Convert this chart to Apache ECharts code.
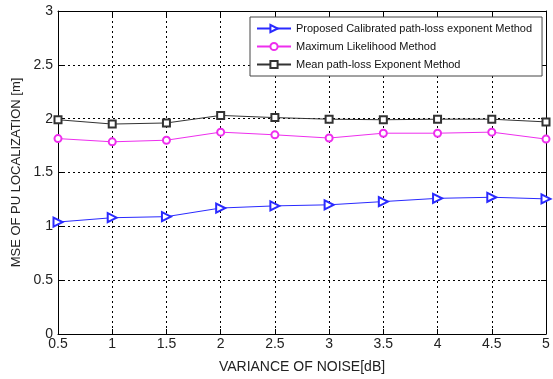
<!DOCTYPE html>
<html>
<head>
<meta charset="utf-8">
<script src="https://cdn.jsdelivr.net/npm/echarts@6/dist/echarts.min.js"></script>
<style>
  html, body { margin: 0; padding: 0; background: #fff; }
  #main { width: 553px; height: 379px; }
</style>
</head>
<body>
<div id="main"></div>
<script>
// 噪声方差 (dB)
var noiseVar = [0.5, 1, 1.5, 2, 2.5, 3, 3.5, 4, 4.5, 5];
// 三种方法的 MSE
var proposed = [1.04, 1.08, 1.09, 1.17, 1.19, 1.20, 1.23, 1.26, 1.27, 1.255];
var maxLike = [1.815, 1.785, 1.80, 1.875, 1.85, 1.82, 1.865, 1.865, 1.875, 1.81];
var meanExp = [1.99, 1.95, 1.96, 2.03, 2.01, 1.995, 1.99, 1.995, 1.995, 1.97];
var seriesNames = ['Proposed Calibrated path-loss exponent Method', 'Maximum Likelihood Method', 'Mean path-loss Exponent Method'];

var pairs = function (ys) {
  return noiseVar.map(function (x, i) { return [x, ys[i]]; });
};

var chart = echarts.init(document.getElementById('main'));
var fontFam = 'Liberation Sans, Arial, sans-serif';

var axisBase = {
  type: 'value',
  interval: 0.5,
  axisLine: { show: true, onZero: false, lineStyle: { color: '#000', width: 1 } },
  axisTick: { show: true, inside: true, length: 5, lineStyle: { color: '#000' } },
  splitLine: { show: false }
};

var option = {
  animation: false,
  backgroundColor: '#fff',
  grid: { left: 58, right: 7, top: 11, bottom: 41 },
  legend: {
    orient: 'vertical',
    left: 250,
    top: 17,
    padding: [6, 10, 6, 6],
    itemGap: 7,
    itemWidth: 34,
    itemHeight: 9,
    backgroundColor: '#fff',
    borderColor: '#444',
    borderWidth: 1,
    textStyle: { fontFamily: fontFam, fontSize: 11, color: '#111' },
    data: seriesNames
  },
  xAxis: [
    Object.assign({}, axisBase, {
      min: 0.5, max: 5,
      position: 'bottom',
      name: 'VARIANCE OF NOISE[dB]',
      nameLocation: 'middle',
      nameGap: 26,
      nameTextStyle: { fontFamily: fontFam, fontSize: 14, color: '#222' },
      axisLabel: { fontFamily: fontFam, fontSize: 14, color: '#222', margin: 3 },
      splitLine: { show: true, lineStyle: { color: '#000', type: [2, 3], width: 1 } }
    }),
    Object.assign({}, axisBase, {
      min: 0.5, max: 5,
      position: 'top',
      axisLabel: { show: false }
    })
  ],
  yAxis: [
    Object.assign({}, axisBase, {
      min: 0, max: 3,
      position: 'left',
      name: 'MSE OF PU LOCALIZATION [m]',
      nameLocation: 'middle',
      nameGap: 34,
      nameTextStyle: { fontFamily: fontFam, fontSize: 13, color: '#222' },
      axisLabel: { fontFamily: fontFam, fontSize: 14, color: '#222', margin: 5 },
      splitLine: { show: true, lineStyle: { color: '#000', type: [2, 3], width: 1 } }
    }),
    Object.assign({}, axisBase, {
      min: 0, max: 3,
      position: 'right',
      axisLabel: { show: false }
    })
  ],
  series: [
    {
      name: seriesNames[0],
      type: 'line',
      data: pairs(proposed),
      symbol: 'emptyTriangle',
      symbolSize: 9,
      symbolRotate: -90,
      lineStyle: { color: '#2a2aff', width: 1 },
      itemStyle: { color: '#2a2aff', borderWidth: 1 },
      z: 5
    },
    {
      name: seriesNames[1],
      type: 'line',
      data: pairs(maxLike),
      symbol: 'emptyCircle',
      symbolSize: 7,
      lineStyle: { color: '#ee2eee', width: 1 },
      itemStyle: { color: '#ee2eee', borderWidth: 1 },
      z: 5
    },
    {
      name: seriesNames[2],
      type: 'line',
      data: pairs(meanExp),
      symbol: 'emptyRect',
      symbolSize: 7,
      lineStyle: { color: '#333', width: 1 },
      itemStyle: { color: '#333', borderWidth: 1 },
      z: 5
    }
  ]
};
chart.setOption(option);
</script>
</body>
</html>
